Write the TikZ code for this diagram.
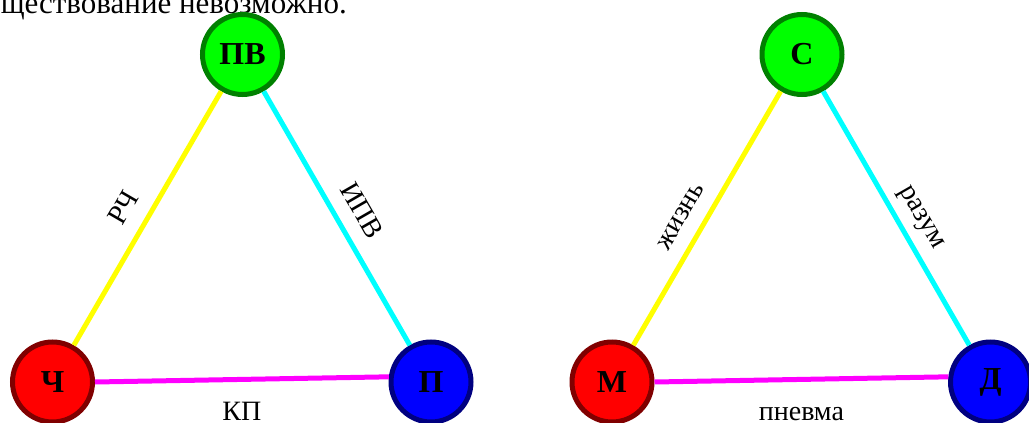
\documentclass[tikz,border=0pt]{standalone}
\usepackage{fontspec}
\setmainfont{Liberation Serif}
\definecolor{vgreen}{HTML}{00FF00}
\definecolor{vgreenrim}{HTML}{008000}
\definecolor{vred}{HTML}{FF0000}
\definecolor{vredrim}{HTML}{800000}
\definecolor{vblue}{HTML}{0000FF}
\definecolor{vbluerim}{HTML}{000080}
\definecolor{lyellow}{HTML}{FFFF00}
\definecolor{lcyan}{HTML}{00FFFF}
\definecolor{lmagenta}{HTML}{FF00FF}
\tikzset{
  vertex/.style      = {circle, line width=5pt, minimum size=80pt, inner sep=0pt,
                        font=\fontsize{32}{38}\selectfont\bfseries},
  top vertex/.style  = {vertex, draw=vgreenrim, fill=vgreen},
  left vertex/.style = {vertex, draw=vredrim, fill=vred},
  right vertex/.style= {vertex, draw=vbluerim, fill=vblue},
  link/.style        = {line width=5pt},
  linklabel/.style   = {font=\fontsize{28}{34}\selectfont, text=black},
  sidelabel/.style   = {linklabel, sloped, above=17pt, anchor=base},
  baselabel/.style   = {linklabel, anchor=base, yshift=-41pt},
}

\begin{document}
\begin{tikzpicture}[x=1pt, y=-1pt]
  \clip (0,0) rectangle (1029,423);

  % ---- cut-off line of text ---------------------------------------------
  \node[linklabel, font=\fontsize{31}{37}\selectfont, anchor=base east, inner sep=0pt]
    (remark) at (347,13) {ществование невозможно.};

  % ---- first triangle ---------------------------------------------------
  \begin{scope}[shift={(0,0)}]
    \node[top vertex]   (pv) at (242.5,54.5) {ПВ};
    \node[left vertex]  (ch) at (52.5,382)   {Ч};
    \node[right vertex] (pp) at (431,382)    {П};
    \draw[link, lyellow]  (ch) -- node[sidelabel, pos=0.49] {РЧ} (pv);
    \draw[link, lcyan]    (pv) -- node[sidelabel, pos=0.52] {ИПВ} (pp);
    \draw[link, lmagenta] (ch.east) -- node[baselabel] {КП} (pp.173);
  \end{scope}

  % ---- second triangle --------------------------------------------------
  \begin{scope}[shift={(559.5,0)}]
    \node[top vertex]   (sp) at (242.5,54.5) {С};
    \node[left vertex]  (bd) at (52.5,382)   {М};
    \node[right vertex] (dh) at (431,382)    {Д};
    \draw[link, lyellow]  (bd) -- node[sidelabel, pos=0.46] {жизнь} (sp);
    \draw[link, lcyan]    (sp) -- node[sidelabel, pos=0.54] {разум} (dh);
    \draw[link, lmagenta] (bd.east) -- node[baselabel] {пневма} (dh.173);
  \end{scope}
\end{tikzpicture}
\end{document}
